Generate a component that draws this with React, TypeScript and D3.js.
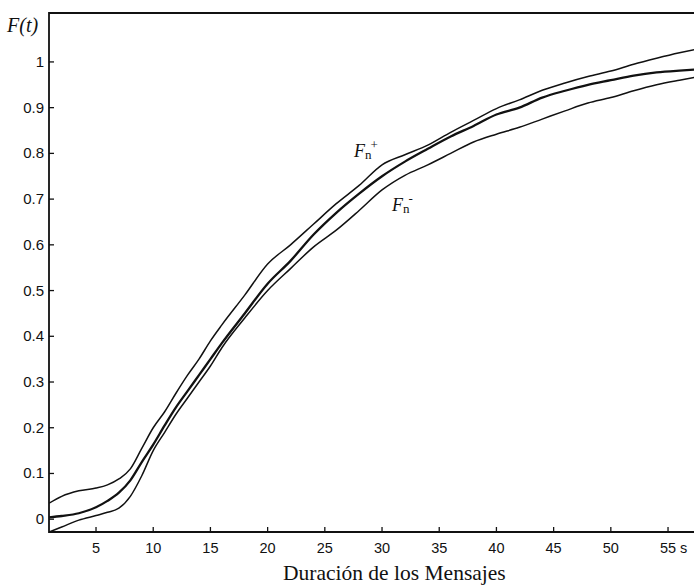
import React from 'react';
import * as d3 from 'd3';

// duration (s) sample points shared by the three curves
const times = [0.9, 2, 3.5, 5, 6, 7, 8, 9, 10, 11, 12, 13, 14, 15, 16, 18, 20, 22, 24, 26, 28, 30, 32, 34, 36, 38, 40, 42, 44, 46, 48, 50, 52, 54, 56, 57.3];

// empirical distribution F(t)
const fMid = [0.004, 0.007, 0.013, 0.026, 0.04, 0.058, 0.085, 0.125, 0.163, 0.205, 0.245, 0.28, 0.315, 0.35, 0.385, 0.45, 0.515, 0.565, 0.622, 0.67, 0.712, 0.75, 0.782, 0.81, 0.837, 0.86, 0.885, 0.9, 0.922, 0.937, 0.95, 0.96, 0.97, 0.977, 0.981, 0.983];
// upper band F_n+
const fUpper = [0.035, 0.05, 0.062, 0.068, 0.075, 0.088, 0.11, 0.155, 0.2, 0.235, 0.276, 0.315, 0.35, 0.39, 0.425, 0.49, 0.558, 0.6, 0.645, 0.69, 0.73, 0.775, 0.797, 0.818, 0.846, 0.872, 0.898, 0.917, 0.938, 0.954, 0.968, 0.98, 0.995, 1.008, 1.02, 1.027];
// lower band F_n-
const fLower = [-0.028, -0.017, -0.002, 0.008, 0.015, 0.024, 0.05, 0.095, 0.15, 0.19, 0.23, 0.265, 0.3, 0.335, 0.375, 0.44, 0.5, 0.548, 0.595, 0.632, 0.675, 0.72, 0.752, 0.775, 0.8, 0.825, 0.842, 0.857, 0.875, 0.893, 0.91, 0.922, 0.937, 0.95, 0.96, 0.966];

const xTicks = [5, 10, 15, 20, 25, 30, 35, 40, 45, 50, 55];
const yTicks = [0, 0.1, 0.2, 0.3, 0.4, 0.5, 0.6, 0.7, 0.8, 0.9, 1];

const W = 694, H = 587;
const left = 49, right = 694, top = 13, bottom = 532;

export default function App() {
  const x = d3.scaleLinear().domain([0.89, 57.27]).range([left, right]);
  const y = d3.scaleLinear().domain([-0.028, 1.107]).range([bottom, top]);

  const line = d3.line<number>()
    .x((_, i) => x(times[i]))
    .y(d => y(d))
    .curve(d3.curveMonotoneX);

  const sans = '"Liberation Sans", Arial, sans-serif';
  const serif = '"Liberation Serif", "Times New Roman", serif';

  return (
    <svg width={W} height={H} style={{ position: 'absolute', left: 0, top: 0, background: '#fff' }}>
      <defs>
        <clipPath id="plot">
          <rect x={left} y={top} width={right - left} height={bottom - top} />
        </clipPath>
      </defs>

      <g clipPath="url(#plot)" fill="none" stroke="#111">
        <path d={line(fUpper) || ''} strokeWidth={1.5} />
        <path d={line(fLower) || ''} strokeWidth={1.5} />
        <path d={line(fMid) || ''} strokeWidth={2.3} />
      </g>

      {/* frame */}
      <path d={`M${right},${top}H${left}V${bottom}H${right}`} fill="none" stroke="#111" strokeWidth={1.8} />

      {/* y ticks */}
      {yTicks.map(v => (
        <g key={'y' + v}>
          <line x1={left} x2={left + 5} y1={y(v)} y2={y(v)} stroke="#111" strokeWidth={1.3} />
          <text x={left - 5} y={y(v) + 5} textAnchor="end" fontFamily={sans} fontSize={15} fill="#111">{v}</text>
        </g>
      ))}

      {/* x ticks */}
      {xTicks.map(v => (
        <g key={'x' + v}>
          <line x1={x(v)} x2={x(v)} y1={bottom} y2={bottom - 5} stroke="#111" strokeWidth={1.3} />
          <text x={x(v)} y={bottom + 21} textAnchor="middle" fontFamily={sans} fontSize={14.5} fill="#111">{v}</text>
        </g>
      ))}
      <text x={x(55) + 12} y={bottom + 21} fontFamily={sans} fontSize={14.5} fill="#111">s</text>

      <text x={7} y={32} fontFamily={serif} fontStyle="italic" fontSize={20} fill="#111">F(t)</text>

      <text x={283} y={580} fontFamily={serif} fontSize={21.5} fill="#111">Duración de los Mensajes</text>

      {/* band labels */}
      <text x={354} y={157} fontFamily={serif} fontSize={18} fill="#111">
        <tspan fontStyle="italic">F</tspan>
        <tspan fontSize={13} dy={2}>n</tspan>
        <tspan fontSize={13} dx={-1} dy={-10}>+</tspan>
      </text>
      <text x={392} y={211} fontFamily={serif} fontSize={18} fill="#111">
        <tspan fontStyle="italic">F</tspan>
        <tspan fontSize={13} dy={2}>n</tspan>
        <tspan fontSize={13} dx={-1} dy={-10}>-</tspan>
      </text>
    </svg>
  );
}
